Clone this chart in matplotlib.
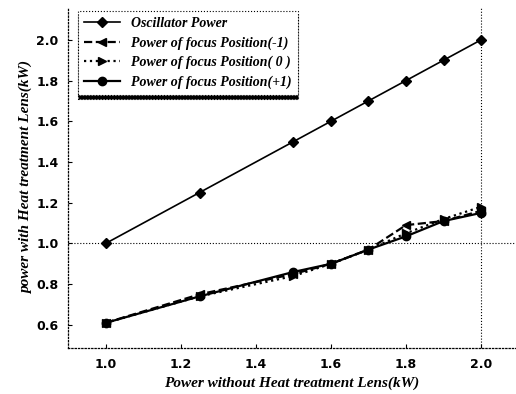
import matplotlib
matplotlib.use("Agg")
import matplotlib.pyplot as plt

# input power without heat treatment lens (kW)
x_power = [1.0, 1.25, 1.5, 1.6, 1.7, 1.8, 1.9, 2.0]

oscillator = [1.0, 1.25, 1.5, 1.6, 1.7, 1.8, 1.9, 2.0]
focus_m1 = [0.61, 0.75, 0.85, 0.90, 0.97, 1.09, 1.11, 1.16]
focus_0 = [0.61, 0.74, 0.84, 0.90, 0.97, 1.05, 1.12, 1.18]
focus_p1 = [0.61, 0.74, 0.86, 0.90, 0.97, 1.035, 1.11, 1.15]

x_ticks = [1.0, 1.2, 1.4, 1.6, 1.8, 2.0]
y_ticks = [0.6, 0.8, 1.0, 1.2, 1.4, 1.6, 1.8, 2.0]

serif = "Liberation Serif"

fig = plt.figure(figsize=(5.16, 3.94), dpi=100)
ax = fig.add_axes([0.132, 0.117, 0.868, 0.863])

ax.plot(x_power, oscillator, color="black", lw=1.2, marker="D", ms=5, label="Oscillator Power")
ax.plot(x_power, focus_m1, color="black", lw=1.6, ls="--", marker="<", ms=6, label="Power of focus Position(-1)")
ax.plot(x_power, focus_0, color="black", lw=1.6, ls=":", marker=">", ms=6, label="Power of focus Position( 0 )")
ax.plot(x_power, focus_p1, color="black", lw=1.6, ls="-", marker="o", ms=6, label="Power of focus Position(+1)")

# dotted reference lines
ax.axhline(1.0, color="black", lw=0.8, ls=":")
ax.axvline(2.0, color="black", lw=0.8, ls=":")

ax.set_xlim(0.90, 2.093)
ax.set_ylim(0.487, 2.157)
ax.set_xticks(x_ticks)
ax.set_yticks(y_ticks)
ax.set_xticklabels(["%.1f" % v for v in x_ticks], fontweight="bold", fontsize=9, family="DejaVu Sans")
ax.set_yticklabels(["%.1f" % v for v in y_ticks], fontweight="bold", fontsize=9, family="DejaVu Sans")
ax.tick_params(direction="in", length=3, width=0.8, pad=7)

for s in ["top", "right"]:
    ax.spines[s].set_visible(False)
for s in ["left", "bottom"]:
    ax.spines[s].set_linestyle(":")
    ax.spines[s].set_linewidth(0.9)

ax.set_xlabel("Power without Heat treatment Lens(kW)", family=serif, style="italic",
              fontweight="bold", fontsize=11, labelpad=4)
ax.set_ylabel("power with Heat treatment Lens(kW)", family=serif, style="italic",
              fontweight="bold", fontsize=11)
ax.yaxis.set_label_coords(-0.078, 0.5)

leg = ax.legend(loc="upper left", bbox_to_anchor=(0.015, 1.0), prop={"family": serif, "style": "italic",
                "weight": "bold", "size": 10}, frameon=True, fancybox=False,
                shadow={"ox": 0, "oy": -2.5, "color": "black", "alpha": 1},
                handlelength=2.6, borderpad=0.45, labelspacing=0.45, borderaxespad=0.2)
leg.get_frame().set_edgecolor("black")
leg.get_frame().set_linestyle(":")
leg.get_frame().set_linewidth(0.8)
leg.get_frame().set_facecolor("white")
leg.get_frame().set_alpha(1)

fig.savefig("out.png", dpi=100)
